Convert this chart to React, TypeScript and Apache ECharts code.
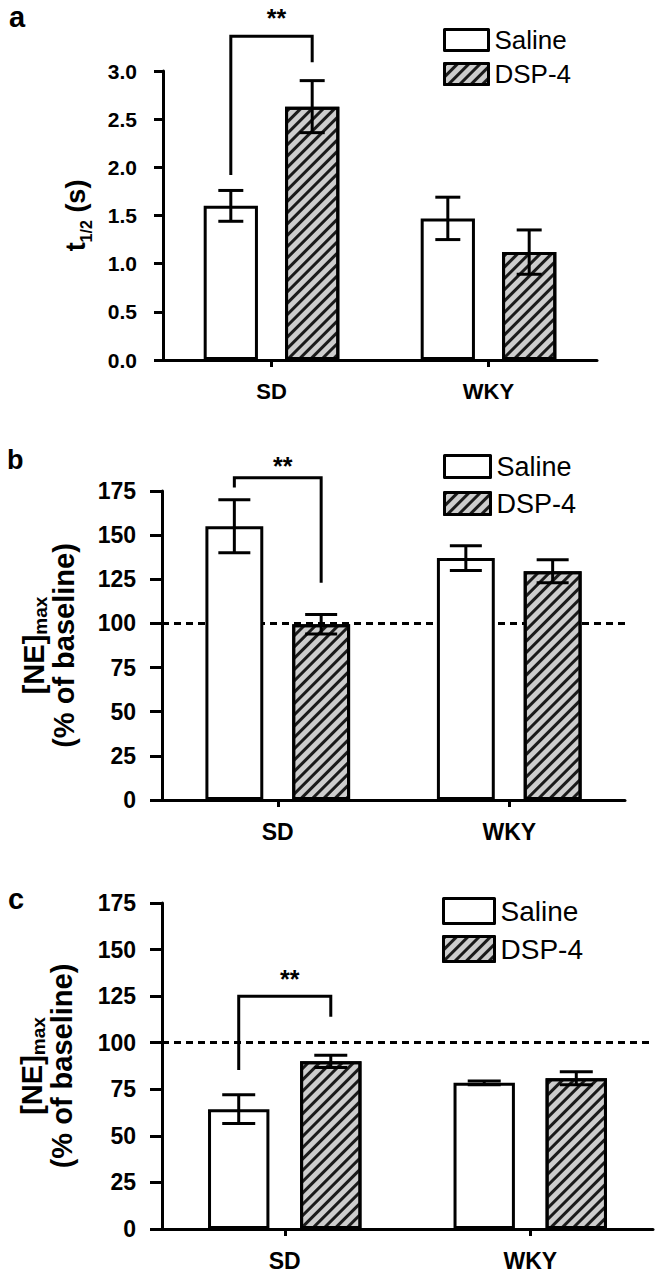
import React, { useEffect, useRef } from 'react';
import * as echarts from 'echarts';

// ---------- data ----------
const categories = ['SD', 'WKY'];
const seriesNames = ['Saline', 'DSP-4'];

// panel a : t1/2 (s)
const aSalineMean = [1.6, 1.47];
const aSalineErr = [0.16, 0.22];
const aDspMean = [2.63, 1.12];
const aDspErr = [0.27, 0.23];
const aBracket = [0, 3.36, 1.92, 3.09, 3.61]; // [category, top, left leg end, right leg end, star level]

// panel b : [NE]max (% of baseline)
const bSalineMean = [155, 137];
const bSalineErr = [15, 7];
const bDspMean = [99.5, 129.5];
const bDspErr = [5.5, 6.5];
const bBracket = [0, 182.5, 177, 123, 192.5];

// panel c : [NE]max (% of baseline)
const cSalineMean = [64.3, 78.5];
const cSalineErr = [7.7, 1];
const cDspMean = [90, 80.9];
const cDspErr = [3.3, 3.5];
const cBracket = [0, 125, 85.4, 113.9, 137.3];

const baselineValue = 100;

// ---------- styling ----------
const FONT = '"Liberation Sans", Arial, Helvetica, sans-serif';
const BAR_W = 0.25; // fraction of band
const BAR_GAP = 0.5; // fraction of bar width
const OFFSET = BAR_W / 2 + (BAR_W * BAR_GAP) / 2; // centre offset from category centre

const hatchDecal = {
  symbol: 'rect',
  symbolSize: 1,
  color: '#1a1a1a',
  dashArrayX: [1, 0],
  dashArrayY: [2.6, 4.4],
  rotation: -Math.PI / 4,
};

type Panel = {
  grid: any;
  max: number;
  interval: number;
  fmt?: (v: number) => string;
  tickLen: number;
  tickFont: number;
  catFont: number;
  name: string;
  nameRich: any;
  nameGap: number;
  saline: number[];
  salineErr: number[];
  dsp: number[];
  dspErr: number[];
  bracket: number[];
  ref: boolean;
  legend: { left: number; tops: number[]; w: number; h: number; font: number };
  cap: number;
  starFont: number;
};

const nameRichAB = (big: number, small: number) => ({
  m: { fontSize: big, fontWeight: 'bold', fontFamily: FONT, color: '#000', lineHeight: 27 },
  s: { fontSize: small, fontWeight: 'bold', fontFamily: FONT, color: '#000', lineHeight: 32, verticalAlign: 'bottom' },
});

const panels: Panel[] = [
  {
    grid: { left: 163, top: 71, width: 434, height: 289 },
    max: 3,
    interval: 0.5,
    fmt: (v: number) => v.toFixed(1),
    tickLen: 9,
    tickFont: 21,
    catFont: 22,
    name: '{m|t}{s|1/2}{m| (s)}',
    nameRich: {
      m: { fontSize: 27, fontWeight: 'bold', fontFamily: FONT, color: '#000', lineHeight: 30 },
      s: { fontSize: 16, fontWeight: 'bold', fontFamily: FONT, color: '#000', lineHeight: 36, verticalAlign: 'bottom' },
    },
    nameGap: 69,
    saline: aSalineMean,
    salineErr: aSalineErr,
    dsp: aDspMean,
    dspErr: aDspErr,
    bracket: aBracket,
    ref: false,
    legend: { left: 443, tops: [27, 61], w: 44, h: 21, font: 26 },
    cap: 12.5,
    starFont: 25,
  },
  {
    grid: { left: 162, top: 491, width: 463, height: 309 },
    max: 175,
    interval: 25,
    tickLen: 12,
    tickFont: 23,
    catFont: 23,
    name: '{m|[NE]}{s|max}\n{m|(% of baseline)}',
    nameRich: nameRichAB(29, 19),
    nameGap: 85,
    saline: bSalineMean,
    salineErr: bSalineErr,
    dsp: bDspMean,
    dspErr: bDspErr,
    bracket: bBracket,
    ref: true,
    legend: { left: 443, tops: [453, 490], w: 46, h: 22, font: 27 },
    cap: 16,
    starFont: 25,
  },
  {
    grid: { left: 162, top: 903, width: 491, height: 326 },
    max: 175,
    interval: 25,
    tickLen: 12,
    tickFont: 23,
    catFont: 23,
    name: '{m|[NE]}{s|max}\n{m|(% of baseline)}',
    nameRich: nameRichAB(29, 19),
    nameGap: 87,
    saline: cSalineMean,
    salineErr: cSalineErr,
    dsp: cDspMean,
    dspErr: cDspErr,
    bracket: cBracket,
    ref: true,
    legend: { left: 442, tops: [897, 935], w: 51, h: 25, font: 28 },
    cap: 16.5,
    starFont: 25,
  },
];

function buildOption() {
  const grid: any[] = [];
  const xAxis: any[] = [];
  const yAxis: any[] = [];
  const series: any[] = [];
  const legend: any[] = [];

  panels.forEach((p, i) => {
    grid.push(p.grid);
    xAxis.push({
      type: 'category',
      gridIndex: i,
      data: categories,
      axisLine: { lineStyle: { color: '#000', width: 3 } },
      axisTick: { show: true, alignWithLabel: true, length: 7, lineStyle: { color: '#000', width: 3 } },
      axisLabel: { fontSize: p.catFont, fontWeight: 'bold', fontFamily: FONT, color: '#000', margin: 20 },
      splitLine: { show: false },
    });
    yAxis.push({
      type: 'value',
      gridIndex: i,
      min: 0,
      max: p.max,
      interval: p.interval,
      name: p.name,
      nameLocation: 'middle',
      nameRotate: 90,
      nameGap: p.nameGap,
      nameTextStyle: { rich: p.nameRich, align: 'center' },
      axisLine: { show: true, lineStyle: { color: '#000', width: 3 } },
      axisTick: { show: true, length: p.tickLen, lineStyle: { color: '#000', width: 3 } },
      axisLabel: {
        fontSize: p.tickFont,
        fontWeight: 'bold',
        fontFamily: FONT,
        color: '#000',
        margin: 26,
        formatter: p.fmt ? (v: number) => p.fmt!(v) : undefined,
      },
      splitLine: { show: false },
    });

    if (p.ref) {
      series.push({
        type: 'line',
        name: 'baseline' + i,
        xAxisIndex: i,
        yAxisIndex: i,
        data: [],
        z: 1,
        markLine: {
          silent: true,
          z: 1,
          symbol: ['none', 'none'],
          label: { show: false },
          lineStyle: { type: [7, 5], width: 3, color: '#000' },
          data: [{ yAxis: baselineValue }],
        },
      });
    }

    series.push({
      type: 'bar',
      name: seriesNames[0],
      xAxisIndex: i,
      yAxisIndex: i,
      data: p.saline,
      barWidth: BAR_W * 100 + '%',
      barGap: BAR_GAP * 100 + '%',
      z: 2,
      itemStyle: { color: '#ffffff', borderColor: '#000', borderWidth: 3 },
    });
    series.push({
      type: 'bar',
      name: seriesNames[1],
      xAxisIndex: i,
      yAxisIndex: i,
      data: p.dsp,
      barWidth: BAR_W * 100 + '%',
      barGap: BAR_GAP * 100 + '%',
      z: 2,
      itemStyle: { color: '#cdcdcd', borderColor: '#000', borderWidth: 3, decal: hatchDecal },
    });

    const errData: number[][] = [];
    p.saline.forEach((m, k) => errData.push([k, m, p.salineErr[k], -1]));
    p.dsp.forEach((m, k) => errData.push([k, m, p.dspErr[k], 1]));
    const cap = p.cap;
    series.push({
      type: 'custom',
      name: 'err' + i,
      xAxisIndex: i,
      yAxisIndex: i,
      z: 3,
      data: errData,
      renderItem: (params: any, api: any) => {
        const cat = api.value(0);
        const mean = api.value(1);
        const err = api.value(2);
        const side = api.value(3);
        const cw = api.size([1, 0])[0];
        const cx = api.coord([cat, mean])[0] + side * OFFSET * cw;
        const yT = api.coord([cat, mean + err])[1];
        const yB = api.coord([cat, mean - err])[1];
        const style = { stroke: '#000', lineWidth: 3 };
        return {
          type: 'group',
          children: [
            { type: 'line', shape: { x1: cx, y1: yT, x2: cx, y2: yB }, style },
            { type: 'line', shape: { x1: cx - cap, y1: yT, x2: cx + cap, y2: yT }, style },
            { type: 'line', shape: { x1: cx - cap, y1: yB, x2: cx + cap, y2: yB }, style },
          ],
        };
      },
    });

    const starFont = p.starFont;
    series.push({
      type: 'custom',
      name: 'sig' + i,
      xAxisIndex: i,
      yAxisIndex: i,
      z: 3,
      clip: false,
      data: [p.bracket],
      renderItem: (params: any, api: any) => {
        const cat = api.value(0);
        const top = api.value(1);
        const lEnd = api.value(2);
        const rEnd = api.value(3);
        const star = api.value(4);
        const cw = api.size([1, 0])[0];
        const c = api.coord([cat, top]);
        const xL = c[0] - OFFSET * cw;
        const xR = c[0] + OFFSET * cw;
        const yT = c[1];
        const yL = api.coord([cat, lEnd])[1];
        const yR = api.coord([cat, rEnd])[1];
        const yS = api.coord([cat, star])[1];
        return {
          type: 'group',
          children: [
            {
              type: 'polyline',
              shape: { points: [[xL, yL], [xL, yT], [xR, yT], [xR, yR]] },
              style: { stroke: '#000', lineWidth: 3, fill: null },
            },
            {
              type: 'text',
              x: (xL + xR) / 2 + 5,
              y: yS + 6,
              style: {
                text: '**',
                fontSize: starFont,
                fontWeight: 'bold',
                fontFamily: FONT,
                fill: '#000',
                align: 'center',
                verticalAlign: 'middle',
              },
            },
          ],
        };
      },
    });

    seriesNames.forEach((nm, k) => {
      legend.push({
        data: [nm],
        orient: 'vertical',
        left: p.legend.left,
        top: p.legend.tops[k],
        padding: 0,
        itemWidth: p.legend.w,
        itemHeight: p.legend.h,
        icon: 'rect',
        selectedMode: false,
        itemStyle: { borderColor: '#000', borderWidth: 3, borderJoin: 'round' },
        textStyle: {
          fontSize: p.legend.font,
          fontFamily: FONT,
          color: '#000',
          lineHeight: p.legend.h,
          height: p.legend.h,
          padding: [0, 0, 0, 1],
        },
      });
    });
  });

  const letter = (t: string, x: number, y: number, size: number) => ({
    type: 'text',
    left: x,
    top: y,
    style: { text: t, fontSize: size, fontWeight: 'bold', fontFamily: FONT, fill: '#000', lineHeight: 20 },
  });

  return {
    animation: false,
    backgroundColor: '#ffffff',
    grid,
    xAxis,
    yAxis,
    series,
    legend,
    graphic: [letter('a', 9, 2, 29), letter('b', 7, 446, 27), letter('c', 8, 884, 29)],
  };
}

export default function App() {
  const ref = useRef<HTMLDivElement>(null);
  useEffect(() => {
    if (!ref.current) return;
    const chart = echarts.init(ref.current, null, { renderer: 'svg' });
    chart.setOption(buildOption() as any);
    return () => chart.dispose();
  }, []);
  return (
    <div
      ref={ref}
      style={{ position: 'absolute', left: 0, top: 0, width: 658, height: 1276, background: '#fff' }}
    />
  );
}
